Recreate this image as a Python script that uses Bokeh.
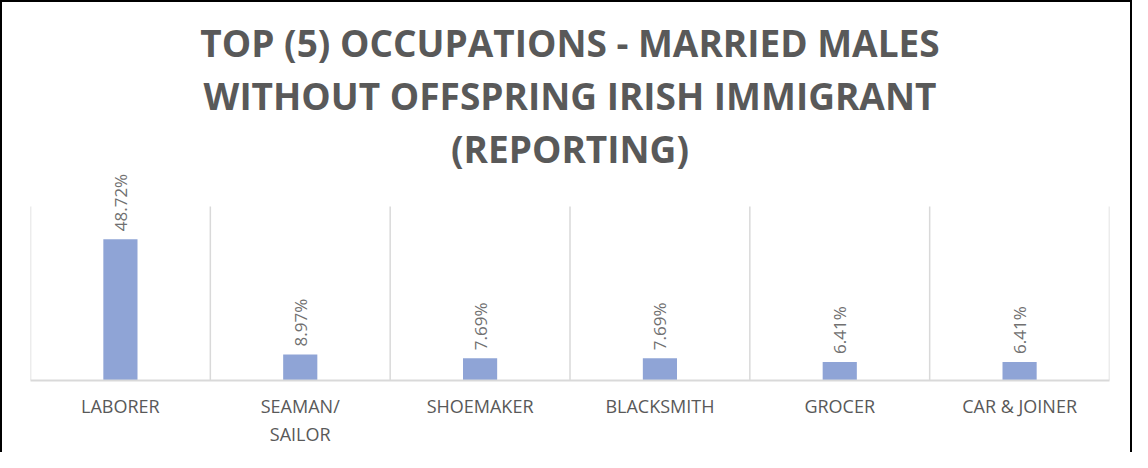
import math
from bokeh.plotting import figure
from bokeh.models import (Range1d, FixedTicker, ColumnDataSource, LabelSet, Title)
from bokeh.core.properties import value
from bokeh.embed import file_html
from bokeh.resources import INLINE

categories = ["LABORER", "SEAMAN/ SAILOR", "SHOEMAKER", "BLACKSMITH", "GROCER", "CAR & JOINER"]
tick_labels = ["LABORER", "SEAMAN/\nSAILOR", "SHOEMAKER", "BLACKSMITH", "GROCER", "CAR & JOINER"]
values = [48.72, 8.97, 7.69, 7.69, 6.41, 6.41]
value_labels = [f"{v:.2f}%" for v in values]
title_lines = ["TOP (5) OCCUPATIONS - MARRIED MALES",
               "WITHOUT OFFSPRING IRISH IMMIGRANT",
               "(REPORTING)"]
axis_max = 60

n = len(categories)
centers = [i + 0.5 for i in range(n)]
bounds = list(range(n + 1))

top_border = 171
bottom_border = 74
plot_h = 452
frame_h = plot_h - top_border - bottom_border
px_per_unit = 174.0 / axis_max
y_end = frame_h / px_per_unit

p = figure(width=1132, height=plot_h, output_backend="svg", toolbar_location=None,
           x_range=Range1d(0, n), y_range=Range1d(0, y_end),
           min_border_left=28, min_border_right=25, min_border_top=top_border,
           min_border_bottom=bottom_border)
p.title = None
for line in reversed(title_lines):
    p.add_layout(Title(text=line, align="center", text_font="Open Sans", text_font_size="37px",
                       text_font_style="bold", text_color="#595959", standoff=0, offset=0),
                 "above")

# category separators (vertical gridlines) up to the axis max
p.segment(x0=bounds, y0=[0] * len(bounds), x1=bounds, y1=[axis_max] * len(bounds),
          line_color="#d9d9d9", line_width=1.5)

src = ColumnDataSource(dict(x=centers, top=values, lab=value_labels))
p.vbar(x="x", top="top", width=0.19, bottom=0, source=src,
       fill_color="#8FA4D6", line_color=None)

labels = LabelSet(x="x", y="top", text="lab", source=src, angle=math.pi / 2,
                  text_align="left", text_baseline="middle", y_offset=8,
                  text_font=value("Open Sans"), text_font_size="17px", text_color="#707070")
p.add_layout(labels)

p.yaxis.visible = False
p.ygrid.grid_line_color = None
p.xgrid.grid_line_color = None

ax = p.xaxis[0]
ax.ticker = FixedTicker(ticks=centers)
ax.major_label_overrides = {c: l for c, l in zip(centers, tick_labels)}
ax.major_tick_line_color = None
ax.minor_tick_line_color = None
ax.axis_line_color = "#d9d9d9"
ax.axis_line_width = 2
ax.major_label_text_font = "Open Sans"
ax.major_label_text_font_size = "18px"
ax.major_label_text_color = "#595959"
ax.major_label_standoff = 7

p.outline_line_color = None
p.background_fill_color = "white"
p.border_fill_color = "white"
p.styles = {"border-left": "2px solid black", "border-top": "2px solid black",
            "border-right": "2px solid black", "box-sizing": "border-box"}

open("out.html", "w").write(file_html(p, INLINE))
